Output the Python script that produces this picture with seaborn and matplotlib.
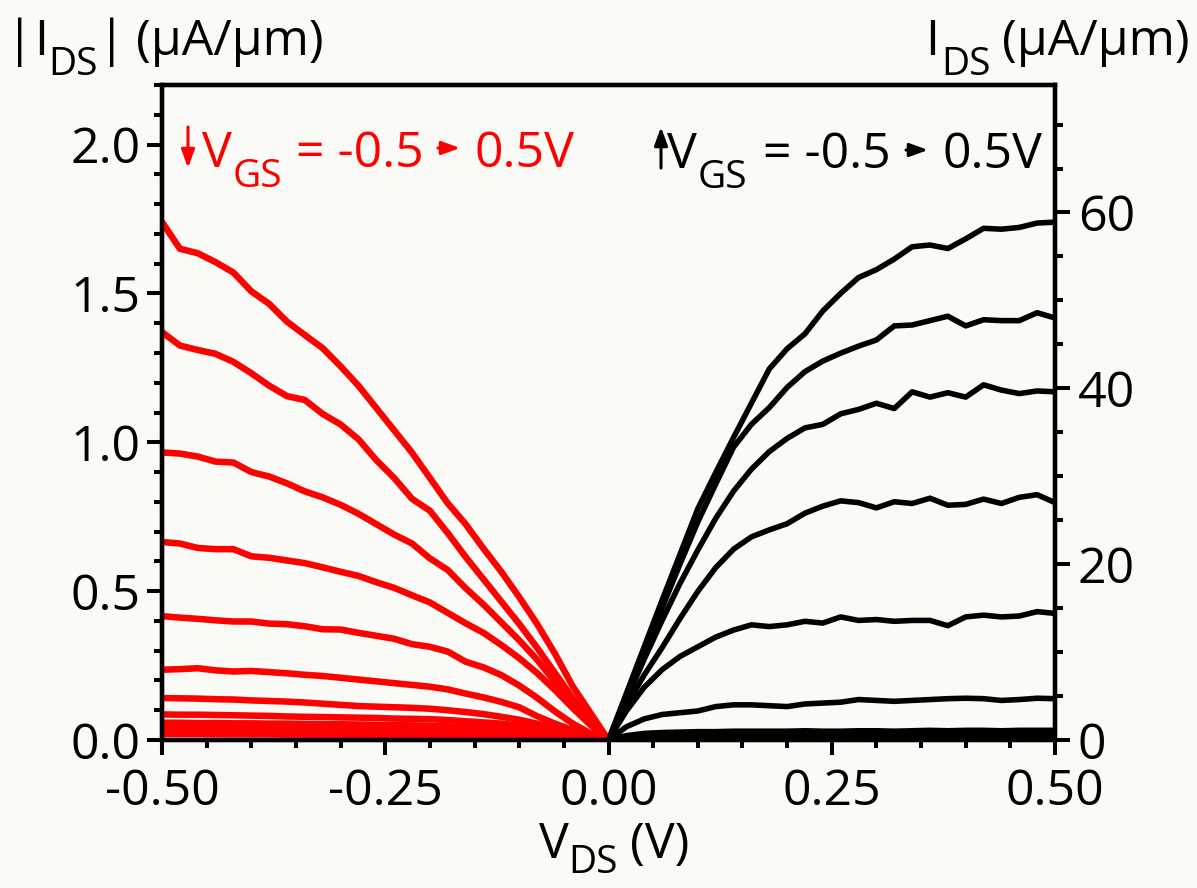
import numpy as np
import pandas as pd
import matplotlib
matplotlib.use("Agg")
import matplotlib.pyplot as plt
import matplotlib.transforms as mtrans
import seaborn as sns
from matplotlib.ticker import MultipleLocator, FormatStrFormatter

# ---------------- data ----------------
v_neg = [-0.50, -0.48, -0.46, -0.44, -0.42, -0.40, -0.38, -0.36, -0.34, -0.32, -0.30, -0.28, -0.26,
         -0.24, -0.22, -0.20, -0.18, -0.16, -0.14, -0.12, -0.10, -0.08, -0.06, -0.04, -0.02, 0.00]
v_pos = [0.00, 0.02, 0.04, 0.06, 0.08, 0.10, 0.12, 0.14, 0.16, 0.18, 0.20, 0.22, 0.24,
         0.26, 0.28, 0.30, 0.32, 0.34, 0.36, 0.38, 0.40, 0.42, 0.44, 0.46, 0.48, 0.50]

# |I_DS| (uA/um), left axis, V_GS = -0.5 ... 0.5 V
red_1 = [1.74, 1.65, 1.635, 1.605, 1.57, 1.507, 1.465, 1.405, 1.36, 1.316, 1.255, 1.19, 1.115,
         1.04, 0.965, 0.88, 0.795, 0.725, 0.643, 0.565, 0.48, 0.39, 0.29, 0.18, 0.09, 0.0]
red_2 = [1.37, 1.325, 1.31, 1.297, 1.27, 1.232, 1.19, 1.155, 1.142, 1.095, 1.06, 1.01, 0.94,
         0.88, 0.81, 0.77, 0.695, 0.615, 0.54, 0.465, 0.39, 0.31, 0.225, 0.14, 0.065, 0.0]
red_3 = [0.966, 0.962, 0.952, 0.935, 0.932, 0.9, 0.885, 0.862, 0.835, 0.815, 0.79, 0.76, 0.725,
         0.69, 0.66, 0.61, 0.571, 0.51, 0.455, 0.395, 0.335, 0.27, 0.195, 0.125, 0.06, 0.0]
red_4 = [0.665, 0.66, 0.645, 0.641, 0.641, 0.617, 0.612, 0.603, 0.594, 0.58, 0.565, 0.551, 0.53,
         0.511, 0.486, 0.462, 0.427, 0.392, 0.36, 0.319, 0.275, 0.225, 0.168, 0.107, 0.05, 0.0]
red_5 = [0.416, 0.411, 0.407, 0.402, 0.398, 0.398, 0.391, 0.389, 0.382, 0.372, 0.371, 0.36, 0.35,
         0.34, 0.322, 0.313, 0.297, 0.263, 0.244, 0.218, 0.183, 0.142, 0.096, 0.055, 0.022, 0.0]
red_6 = [0.236, 0.238, 0.241, 0.234, 0.23, 0.232, 0.228, 0.224, 0.219, 0.215, 0.209, 0.203, 0.197,
         0.191, 0.185, 0.179, 0.17, 0.156, 0.143, 0.128, 0.11, 0.08, 0.055, 0.033, 0.013, 0.0]
red_7 = [0.141, 0.14, 0.139, 0.137, 0.136, 0.133, 0.131, 0.129, 0.126, 0.122, 0.118, 0.114, 0.112,
         0.11, 0.108, 0.105, 0.1, 0.094, 0.087, 0.078, 0.068, 0.055, 0.04, 0.026, 0.012, 0.0]
red_8 = [0.086, 0.085, 0.085, 0.084, 0.083, 0.082, 0.081, 0.079, 0.078, 0.077, 0.076, 0.075, 0.074,
         0.072, 0.071, 0.07, 0.067, 0.063, 0.059, 0.055, 0.048, 0.04, 0.03, 0.02, 0.009, 0.0]
red_9 = [0.058, 0.058, 0.057, 0.057, 0.056, 0.056, 0.055, 0.055, 0.054, 0.053, 0.053, 0.052, 0.051,
         0.05, 0.049, 0.048, 0.046, 0.044, 0.041, 0.038, 0.034, 0.028, 0.021, 0.014, 0.007, 0.0]
red_10 = [0.038, 0.038, 0.037, 0.037, 0.037, 0.036, 0.036, 0.036, 0.035, 0.035, 0.034, 0.034, 0.033,
          0.033, 0.032, 0.031, 0.030, 0.029, 0.027, 0.025, 0.022, 0.018, 0.014, 0.009, 0.005, 0.0]
red_11 = [0.02, 0.02, 0.02, 0.019, 0.019, 0.019, 0.019, 0.018, 0.018, 0.018, 0.018, 0.017, 0.017,
          0.017, 0.016, 0.016, 0.015, 0.015, 0.014, 0.013, 0.011, 0.009, 0.007, 0.005, 0.002, 0.0]

# I_DS (uA/um), right axis, V_GS = 0.5 ... -0.5 V
black_1 = [0, 5.3, 10.6, 15.9, 21.1, 26.3, 30.4, 34.4, 38.3, 42.2, 44.5, 46.2, 48.8,
           50.8, 52.6, 53.5, 54.7, 56.1, 56.3, 55.9, 57.0, 58.2, 58.1, 58.3, 58.8, 58.9]
black_2 = [0, 5.0, 10.0, 15.0, 20.0, 24.8, 29.1, 33.3, 35.9, 37.8, 40.1, 41.9, 43.1,
           44.0, 44.8, 45.5, 47.1, 47.2, 47.7, 48.2, 47.1, 47.8, 47.7, 47.7, 48.6, 48.0]
black_3 = [0, 4.6, 9.2, 13.6, 17.8, 21.6, 25.2, 28.3, 30.8, 32.8, 34.3, 35.5, 35.9,
           37.1, 37.6, 38.3, 37.7, 39.6, 39.0, 39.5, 39.0, 40.4, 39.8, 39.4, 39.7, 39.6]
black_4 = [0, 3.9, 7.4, 10.5, 13.8, 16.9, 19.6, 21.7, 23.1, 23.9, 24.6, 25.8, 26.6,
           27.2, 27.0, 26.4, 27.1, 26.9, 27.5, 26.7, 26.8, 27.4, 26.9, 27.6, 27.9, 27.0]
black_5 = [0, 3.3, 6.0, 8.0, 9.5, 10.6, 11.7, 12.5, 13.1, 12.9, 13.1, 13.5, 13.3,
           14.0, 13.6, 13.7, 13.5, 13.6, 13.6, 13.0, 14.0, 14.2, 14.0, 14.1, 14.6, 14.4]
black_6 = [0, 1.5, 2.4, 2.9, 3.1, 3.3, 3.8, 4.0, 4.0, 3.9, 3.8, 4.1, 4.2,
           4.3, 4.6, 4.5, 4.4, 4.5, 4.6, 4.7, 4.75, 4.7, 4.5, 4.6, 4.75, 4.7]
black_7 = [0, 0.5, 0.75, 0.85, 0.9, 0.95, 0.95, 1.0, 1.0, 1.0, 1.0, 1.05, 1.0,
           1.0, 1.05, 1.05, 1.0, 1.05, 1.1, 1.05, 1.1, 1.1, 1.05, 1.1, 1.1, 1.1]
black_8 = [0, 0.35, 0.5, 0.58, 0.62, 0.65, 0.66, 0.68, 0.68, 0.69, 0.7, 0.7, 0.7,
           0.71, 0.71, 0.72, 0.72, 0.72, 0.73, 0.73, 0.73, 0.74, 0.74, 0.74, 0.75, 0.75]
black_9 = [0, 0.22, 0.32, 0.37, 0.4, 0.42, 0.43, 0.44, 0.44, 0.45, 0.45, 0.45, 0.46,
           0.46, 0.46, 0.46, 0.47, 0.47, 0.47, 0.47, 0.48, 0.48, 0.48, 0.48, 0.48, 0.49]
black_10 = [0, 0.12, 0.17, 0.2, 0.22, 0.23, 0.23, 0.24, 0.24, 0.24, 0.25, 0.25, 0.25,
            0.25, 0.25, 0.25, 0.26, 0.26, 0.26, 0.26, 0.26, 0.26, 0.27, 0.27, 0.27, 0.27]
black_11 = [0, 0.05, 0.07, 0.08, 0.09, 0.09, 0.1, 0.1, 0.1, 0.1, 0.1, 0.1, 0.1,
            0.1, 0.1, 0.11, 0.11, 0.11, 0.11, 0.11, 0.11, 0.11, 0.11, 0.11, 0.11, 0.11]

red_curves = [red_1, red_2, red_3, red_4, red_5, red_6, red_7, red_8, red_9, red_10, red_11]
black_curves = [black_1, black_2, black_3, black_4, black_5, black_6, black_7, black_8, black_9,
                black_10, black_11]

red_df = pd.DataFrame({
    "V": np.concatenate([v_neg for _ in red_curves]),
    "I": np.concatenate(red_curves),
    "curve": np.repeat(np.arange(len(red_curves)), len(v_neg)),
})
black_df = pd.DataFrame({
    "V": np.concatenate([v_pos for _ in black_curves]),
    "I": np.concatenate(black_curves),
    "curve": np.repeat(np.arange(len(black_curves)), len(v_pos)),
})

# ---------------- style ----------------
sns.set_theme(style="ticks")
plt.rcParams["font.family"] = ["Open Sans", "DejaVu Sans"]
plt.rcParams["axes.unicode_minus"] = False

BG = "#fafbf7"
RED = "#ff0000"
W, H = 1197, 888
FS = 36
FS_SUB = 28

fig = plt.figure(figsize=(W / 100, H / 100), dpi=100, facecolor=BG)
ax = fig.add_axes([162 / W, 148 / H, 893 / W, 655 / H])
ax.set_facecolor(BG)

sns.lineplot(data=red_df, x="V", y="I", units="curve", estimator=None, sort=False,
             color=RED, lw=4.7, ax=ax, legend=False)
ax2 = ax.twinx()
sns.lineplot(data=black_df, x="V", y="I", units="curve", estimator=None, sort=False,
             color="black", lw=4.0, ax=ax2, legend=False)

ax.set_xlim(-0.5, 0.5)
ax.set_ylim(0, 2.2)
ax2.set_ylim(0, 74.5)
for a in (ax, ax2):
    a.set_xlabel("")
    a.set_ylabel("")
    for s in a.spines.values():
        s.set_linewidth(3.1)
        s.set_color("black")
        s.set_visible(True)

ax.xaxis.set_major_locator(MultipleLocator(0.25))
ax.xaxis.set_minor_locator(MultipleLocator(0.05))
ax.xaxis.set_major_formatter(FormatStrFormatter("%.2f"))
ax.yaxis.set_major_locator(MultipleLocator(0.5))
ax.yaxis.set_minor_locator(MultipleLocator(0.1))
ax.yaxis.set_major_formatter(FormatStrFormatter("%.1f"))
ax2.yaxis.set_major_locator(MultipleLocator(20))
ax2.yaxis.set_minor_locator(MultipleLocator(5))
ax2.yaxis.set_major_formatter(FormatStrFormatter("%d"))

TW = 2.9
ax.tick_params(axis="both", which="major", direction="out", length=10.5, width=TW,
               labelsize=FS, colors="black", top=False, right=False)
ax.tick_params(axis="both", which="minor", direction="out", length=5.5, width=TW,
               colors="black", top=False, right=False)
ax.tick_params(axis="x", which="major", pad=9)
ax.tick_params(axis="y", which="major", pad=5)
ax2.tick_params(axis="y", which="major", direction="out", length=10.5, width=TW,
                labelsize=FS, colors="black", pad=6, left=False, right=True)
ax2.tick_params(axis="y", which="minor", direction="out", length=5.5, width=TW,
                colors="black", left=False, right=True)

# ---------------- rich text helper (pixel coords, y from top) ----------------
renderer = fig.canvas.get_renderer()
ident = mtrans.IdentityTransform()


def rich(x_px, y_base_px, pieces, color="black", ha="left"):
    """pieces: (text, fontsize, drop_px, gap_after_px)"""
    items = []
    total = 0.0
    for s, fs, drop, gap in pieces:
        t = fig.text(0, 0, s, fontsize=fs, color=color, transform=ident,
                     ha="left", va="baseline")
        w = t.get_window_extent(renderer).width
        items.append((t, drop, w, gap))
        total += w + gap
    total -= items[-1][3]
    x = x_px if ha == "left" else (x_px - total if ha == "right" else x_px - total / 2)
    for t, drop, w, gap in items:
        t.set_position((x, H - y_base_px - drop))
        x += w + gap


rich(6, 55, [("|", FS, 0, 1), ("I", FS, 0, 0), ("DS", FS_SUB, 20, 0), ("|", FS, 0, 11),
             ("(μA/μm)", FS, 0, 0)])
rich(1190, 55, [("I", FS, 0, 2), ("DS", FS_SUB, 20, 12), ("(μA/μm)", FS, 0, 0)], ha="right")
rich(614, 858, [("V", FS, 0, 0), ("DS", FS_SUB, 15, 12), ("(V)", FS, 0, 0)], ha="center")

# annotations
rich(202, 167, [("V", FS, 0, 1), ("GS", FS_SUB, 20, 14), ("= -0.5", FS, 0, 0)], color=RED)
rich(574, 167, [("0.5V", FS, 0, 0)], color=RED, ha="right")
rich(667, 168, [("V", FS, 0, 1), ("GS", FS_SUB, 20, 16), ("= -0.5", FS, 0, 0)], color="black")
rich(1042, 168, [("0.5V", FS, 0, 0)], color="black", ha="right")

arrow_kw = dict(arrowstyle="-|>,head_length=0.55,head_width=0.2", lw=2.2, shrinkA=0, shrinkB=0,
                mutation_scale=20)
ax.annotate("", xy=(188, H - 168), xytext=(188, H - 127), xycoords="figure pixels",
            textcoords="figure pixels", arrowprops=dict(color=RED, **arrow_kw))
ax.annotate("", xy=(460, H - 148), xytext=(438, H - 148), xycoords="figure pixels",
            textcoords="figure pixels", arrowprops=dict(color=RED, **arrow_kw))
ax.annotate("", xy=(661, H - 127), xytext=(661, H - 168), xycoords="figure pixels",
            textcoords="figure pixels", arrowprops=dict(color="black", **arrow_kw))
ax.annotate("", xy=(928, H - 150), xytext=(906, H - 150), xycoords="figure pixels",
            textcoords="figure pixels", arrowprops=dict(color="black", **arrow_kw))

fig.savefig("out.png", dpi=100, facecolor=BG)
